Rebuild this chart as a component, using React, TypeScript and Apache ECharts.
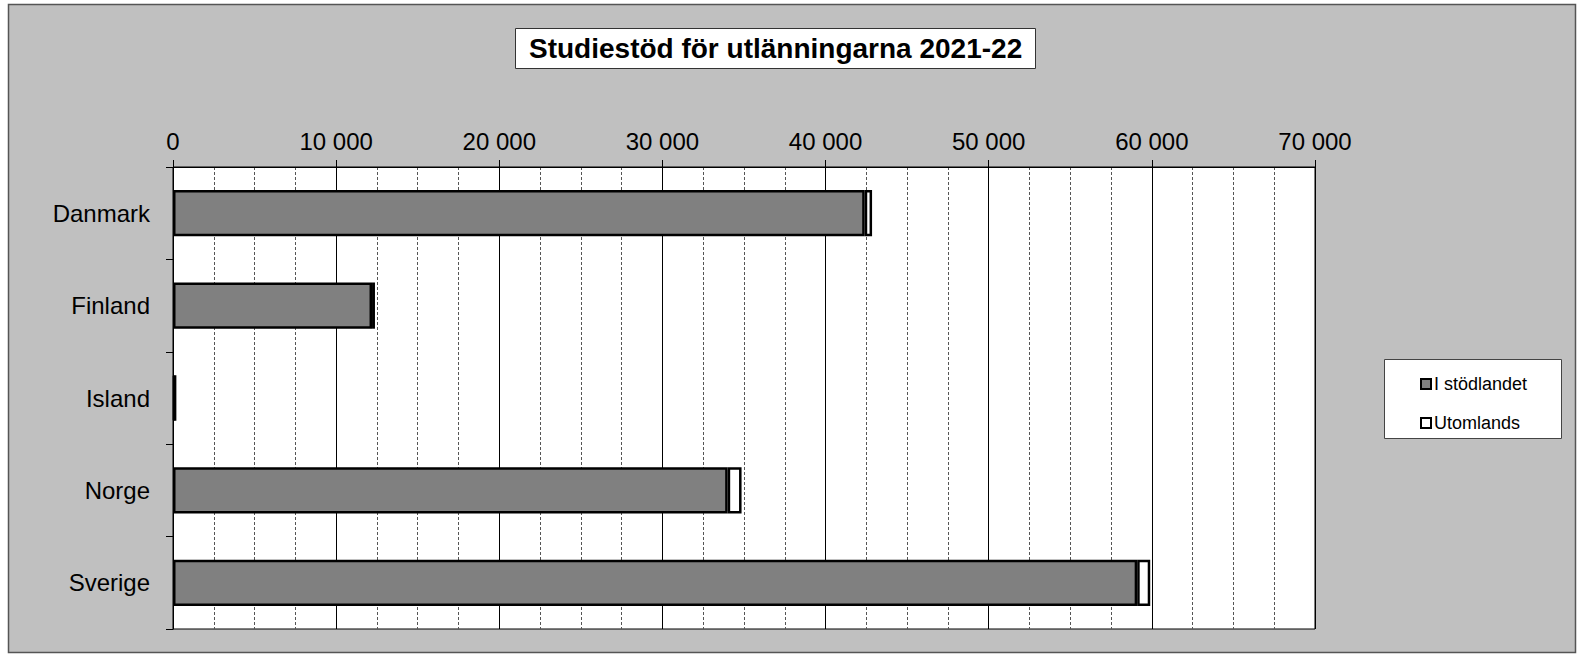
import React, { useEffect, useRef } from "react";
import * as echarts from "echarts";

const titleText = "Studiestöd för utlänningarna 2021-22";
const countries = ["Danmark", "Finland", "Island", "Norge", "Sverige"];
const seriesNames = ["I stödlandet", "Utomlands"];
const iStodlandet = [42400, 12200, 110, 34000, 59100];
const utomlands = [450, 180, 40, 850, 800];
const xMin = 0;
const xMax = 70000;
const xStep = 10000;

const FONT = "'Liberation Sans', Arial, sans-serif";

function fmt(v: number): string {
  return String(Math.round(v)).replace(/\B(?=(\d{3})+(?!\d))/g, " ");
}

export default function App() {
  const ref = useRef<HTMLDivElement>(null);
  useEffect(() => {
    if (!ref.current) return;
    const chart = echarts.init(ref.current, undefined, { renderer: "svg" });
    chart.setOption({
      animation: false,
      backgroundColor: "#ffffff",
      textStyle: { fontFamily: FONT },
      graphic: [
        {
          type: "rect",
          z: -10,
          silent: true,
          shape: { x: 8.5, y: 4.5, width: 1567, height: 648 },
          style: { fill: "#c0c0c0", stroke: "#555555", lineWidth: 1.5 },
        },
        {
          type: "rect",
          z: -5,
          silent: true,
          shape: { x: 1384.5, y: 359.5, width: 177, height: 79 },
          style: { fill: "#ffffff", stroke: "#444444", lineWidth: 1 },
        },
      ],
      title: {
        text: titleText,
        left: 515,
        top: 28,
        padding: [6, 14],
        backgroundColor: "#ffffff",
        borderColor: "#333333",
        borderWidth: 1,
        textStyle: {
          fontFamily: FONT,
          fontSize: 28,
          fontWeight: "bold",
          color: "#000000",
          lineHeight: 29,
        },
      },
      legend: {
        data: seriesNames,
        orient: "vertical",
        left: 1415,
        top: 370,
        itemWidth: 10,
        itemHeight: 10,
        itemGap: 21,
        icon: "rect",
        textStyle: { fontFamily: FONT, fontSize: 18, color: "#000000", padding: [0, 0, 0, -2] },
        itemStyle: { borderColor: "#000000", borderWidth: 2 },
      },
      grid: {
        left: 173,
        top: 167,
        width: 1142,
        height: 462,
        show: true,
        backgroundColor: "#ffffff",
        borderColor: "#000000",
        borderWidth: 1,
        containLabel: false,
      },
      xAxis: {
        type: "value",
        position: "top",
        min: xMin,
        max: xMax,
        interval: xStep,
        axisLine: { show: true, lineStyle: { color: "#000000", width: 1 } },
        axisTick: { show: true, length: 7, lineStyle: { color: "#000000" } },
        axisLabel: {
          formatter: (v: number) => fmt(v),
          fontFamily: FONT,
          fontSize: 24,
          color: "#000000",
          margin: 14,
        },
        splitLine: { show: true, lineStyle: { color: "#000000", width: 1 } },
        minorTick: { show: false, splitNumber: 4 },
        minorSplitLine: {
          show: true,
          lineStyle: { color: "#555555", width: 1, type: [3, 2] },
        },
      },
      yAxis: {
        type: "category",
        data: countries,
        inverse: true,
        axisLine: { show: true, lineStyle: { color: "#000000", width: 1 } },
        axisTick: { show: true, length: 7, lineStyle: { color: "#000000" } },
        axisLabel: {
          fontFamily: FONT,
          fontSize: 24,
          color: "#000000",
          margin: 23,
        },
        splitLine: { show: false },
      },
      series: [
        {
          name: seriesNames[0],
          type: "bar",
          stack: "total",
          barWidth: "50%",
          data: iStodlandet,
          itemStyle: { color: "#808080", borderColor: "#000000", borderWidth: 2.5 },
        },
        {
          name: seriesNames[1],
          type: "bar",
          stack: "total",
          barWidth: "50%",
          data: utomlands,
          itemStyle: { color: "#ffffff", borderColor: "#000000", borderWidth: 2.5 },
        },
      ],
    });
    return () => chart.dispose();
  }, []);
  return (
    <div
      ref={ref}
      style={{ position: "absolute", left: 0, top: 0, width: 1579, height: 654 }}
    />
  );
}
